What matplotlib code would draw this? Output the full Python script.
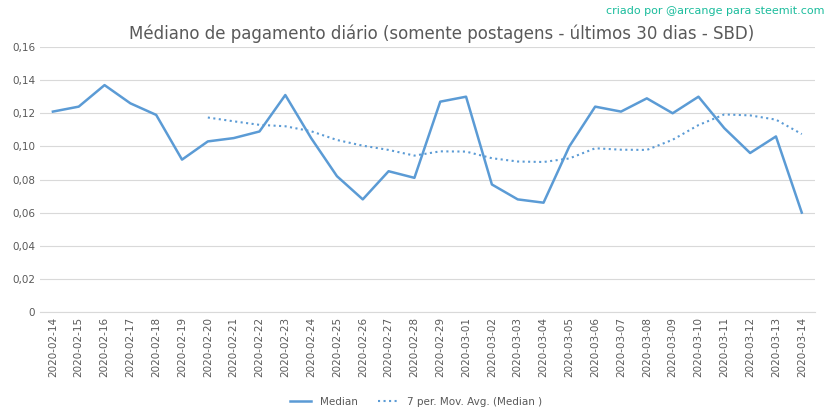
import numpy as np
import pandas as pd
import matplotlib.pyplot as plt

dates = pd.date_range("2020-02-14", "2020-03-14").strftime("%Y-%m-%d").tolist()
median = [0.121, 0.124, 0.137, 0.126, 0.119, 0.092, 0.103, 0.105, 0.109, 0.131,
          0.105, 0.082, 0.068, 0.085, 0.081, 0.127, 0.130, 0.077, 0.068, 0.066,
          0.100, 0.124, 0.121, 0.129, 0.120, 0.130, 0.111, 0.096, 0.106, 0.060]
mov_avg = pd.Series(median).rolling(7).mean()

blue = "#5b9bd5"
fig = plt.figure(figsize=(8.33, 4.16), dpi=100)
ax = fig.add_axes([0.048, 0.25, 0.93, 0.637])
x = np.arange(len(dates))
ax.plot(x, median, color=blue, lw=1.8, label="Median")
ax.plot(x, mov_avg, color=blue, lw=1.5, ls=":", label="7 per. Mov. Avg. (Median )")

ax.set_xlim(-0.5, len(dates) - 0.5)
ax.set_ylim(0, 0.16)
yt = np.arange(0, 0.161, 0.02)
ax.set_yticks(yt)
ax.set_yticklabels(["0"] + [f"{v:.2f}".replace(".", ",") for v in yt[1:]])
ax.set_xticks(x)
ax.set_xticklabels(dates, rotation=90)
ax.tick_params(labelsize=7.5, colors="#595959", length=0)
ax.grid(axis="y", color="#d9d9d9", lw=0.8)
for s in ["top", "right", "left"]:
    ax.spines[s].set_visible(False)
ax.spines["bottom"].set_color("#d9d9d9")

fig.text(0.53, 0.92, "Médiano de pagamento diário (somente postagens - últimos 30 dias - SBD)",
         ha="center", va="center", fontsize=12, color="#595959")
fig.text(0.99, 0.985, "criado por @arcange para steemit.com", ha="right", va="top",
         fontsize=8, color="#1abc9c")
fig.legend(loc="lower center", bbox_to_anchor=(0.5, 0.0), ncol=2, frameon=False,
           fontsize=7.5, labelcolor="#595959")
fig.savefig("out.png")
